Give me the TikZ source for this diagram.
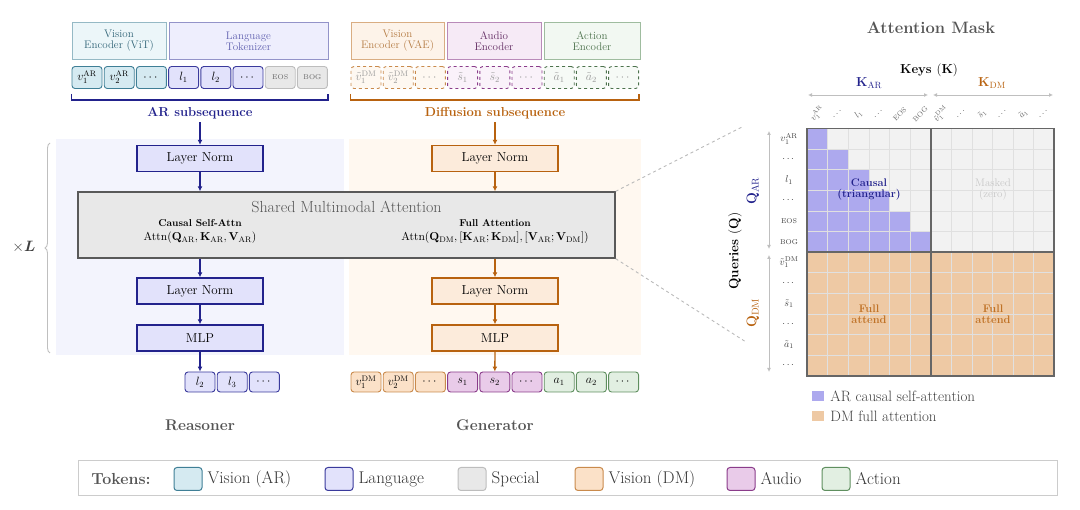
\documentclass[tikz,border=0pt]{standalone}
\usepackage{fix-cm}
\usepackage{amsmath}
\usepackage{amssymb}
\usepackage{tikz}
\usetikzlibrary{arrows.meta,calc,decorations.pathreplacing,positioning}
\usepackage{xcolor}

\definecolor{arnavy}{HTML}{22228C}
\definecolor{dmbrown}{HTML}{B8620F}
\definecolor{visarfill}{HTML}{D5EAF1}
\definecolor{visarline}{HTML}{3F7F96}
\definecolor{langfill}{HTML}{E2E2FB}
\definecolor{langline}{HTML}{3A3A9C}
\definecolor{specfill}{HTML}{E8E8E8}
\definecolor{specline}{HTML}{BDBDBD}
\definecolor{visdmfill}{HTML}{FBE1C8}
\definecolor{visdmline}{HTML}{C98A4C}
\definecolor{audfill}{HTML}{E9CBE9}
\definecolor{audline}{HTML}{8A3C8A}
\definecolor{actfill}{HTML}{E2EFE2}
\definecolor{actline}{HTML}{5F8F5F}
\definecolor{panelar}{HTML}{F3F4FD}
\definecolor{paneldm}{HTML}{FFF8F0}
\definecolor{mpurple}{HTML}{ADA9EE}
\definecolor{mtan}{HTML}{EEC9A4}
\definecolor{mgray}{HTML}{F2F2F2}
\definecolor{txtgray}{HTML}{555555}

\newcommand{\fsz}[1]{\fontsize{#1}{#1}\selectfont}
\newcommand{\cellw}{20.6}

\begin{document}
\begin{tikzpicture}[x=1pt,y=-1pt,
	enc/.style={draw,line width=0.9pt,minimum height=37,inner sep=0pt,align=center,font=\fsz{11}},
	tok/.style={draw,rounded corners=3pt,line width=0.9pt,minimum width=30,minimum height=22,inner sep=0pt,font=\fsz{12}},
	tva/.style={tok,fill=visarfill,draw=visarline},
	tlang/.style={tok,fill=langfill,draw=langline},
	tspec/.style={tok,fill=specfill,draw=specline,text=black!60},
	tvd/.style={tok,fill=visdmfill,draw=visdmline},
	taud/.style={tok,fill=audfill,draw=audline},
	tact/.style={tok,fill=actfill,draw=actline},
	dvd/.style={tok,dashed,fill=visdmfill!25,draw=visdmline,text=black!40},
	daud/.style={tok,dashed,fill=audfill!25,draw=audline,text=black!40},
	dact/.style={tok,dashed,fill=actfill!30,draw=actline!80!black,text=black!40},
	blockar/.style={draw=arnavy,fill=langfill,line width=1.4pt,minimum width=126,minimum height=26,font=\fsz{13}},
	blockdm/.style={draw=dmbrown,fill=visdmfill!65,line width=1.4pt,minimum width=126,minimum height=26,font=\fsz{13}},
	flowar/.style={arnavy,line width=1.3pt,-{Latex[length=5pt,width=5pt]}},
	flowdm/.style={dmbrown,line width=1.3pt,-{Latex[length=5pt,width=5pt]}},
	rowlab/.style={font=\fsz{10},text=black!75,inner sep=0pt},
	collab/.style={font=\fsz{9},text=black!60,inner sep=0pt,rotate=45},
	axisarr/.style={black!25,line width=0.9pt,{Latex[length=4pt,width=4pt]}-{Latex[length=4pt,width=4pt]}},
	swatch/.style={draw,rounded corners=3pt,line width=1pt,minimum width=28,minimum height=23,inner sep=0pt},
	]
	\useasboundingbox (0,0) rectangle (1080,510);

	\fill[panelar] (56,139) rectangle (344,355);
	\fill[paneldm] (349,139) rectangle (641,355);
	\draw[black!25,line width=0.9pt,decorate,decoration={brace,amplitude=5pt}] (50,353) -- (50,143);
	\node[font=\fsz{15},text=black!75] (times) at (24,247) {$\times\boldsymbol{L}$};

	\node[enc,fill=visarfill!45,draw=visarline!55,text=visarline!80!black,minimum width=94] (vit) at (119,41) {Vision\\Encoder (ViT)};
	\node[enc,fill=langfill!60,draw=langline!55,text=langline!80,minimum width=159] (tokz) at (248.5,41) {Language\\Tokenizer};
	\node[enc,fill=visdmfill!40,draw=visdmline!70,text=visdmline!90!black,minimum width=93] (vae) at (397.5,41) {Vision\\Encoder (VAE)};
	\node[enc,fill=audfill!40,draw=audline!60,text=audline!70!black,minimum width=94] (aud) at (494,41) {Audio\\Encoder};
	\node[enc,fill=actfill!45,draw=actline!60,text=actline!80!black,minimum width=96] (act) at (592,41) {Action\\Encoder};

	\foreach \lab/\sty [count=\i] in {{$v_1^{\mathrm{AR}}$}/tva,{$v_2^{\mathrm{AR}}$}/tva,{$\cdots$}/tva,{$l_1$}/tlang,{$l_2$}/tlang,{$\cdots$}/tlang,{\fsz{7}EOS}/tspec,{\fsz{7}BOG}/tspec}
		\node[\sty] (ar\i) at ({87+32.2*(\i-1)},77.5) {\lab};
	\foreach \lab/\sty [count=\i] in {{$\tilde v_1^{\mathrm{DM}}$}/dvd,{$\tilde v_2^{\mathrm{DM}}$}/dvd,{$\cdots$}/dvd,{$\tilde s_1$}/daud,{$\tilde s_2$}/daud,{$\cdots$}/daud,{$\tilde a_1$}/dact,{$\tilde a_2$}/dact,{$\cdots$}/dact}
		\node[\sty] (dm\i) at ({366+32.2*(\i-1)},77.5) {\lab};

	\draw[arnavy,line width=1.3pt] ($(ar1.south west)+(0,5)$) -- ++(0,6) -| ($(ar8.south east)+(0,5)$);
	\draw[dmbrown,line width=1.3pt] ($(dm1.south west)+(0,5)$) -- ++(0,6) -| ($(dm9.south east)+(0,5)$);
	\node[font=\bfseries\fsz{13},text=arnavy] (arsub) at (200,113) {AR subsequence};
	\node[font=\bfseries\fsz{13},text=dmbrown] (dmsub) at (495,113) {Diffusion subsequence};

	\node[blockar] (lnA) at (200,158.5) {Layer Norm};
	\node[blockdm] (lnC) at (495,158.5) {Layer Norm};
	\node[draw=black!65,fill=black!9,line width=1.4pt,minimum width=537,minimum height=66] (attn) at (346.5,225) {};
	\node[font=\fsz{16},text=txtgray] (attnt) at (346.5,207) {Shared Multimodal Attention};
	\node[font=\bfseries\fsz{10}] (causal) at (200,223) {Causal Self-Attn};
	\node[font=\fsz{11.5}] (causalf) at (200,238) {$\mathrm{Attn}(\mathbf{Q}_{\mathrm{AR}},\mathbf{K}_{\mathrm{AR}},\mathbf{V}_{\mathrm{AR}})$};
	\node[font=\bfseries\fsz{10}] (full) at (495,223) {Full Attention};
	\node[font=\fsz{11.5}] (fullf) at (495,238) {$\mathrm{Attn}(\mathbf{Q}_{\mathrm{DM}},[\mathbf{K}_{\mathrm{AR}};\mathbf{K}_{\mathrm{DM}}],[\mathbf{V}_{\mathrm{AR}};\mathbf{V}_{\mathrm{DM}}])$};
	\node[blockar] (lnB) at (200,291) {Layer Norm};
	\node[blockdm] (lnD) at (495,291) {Layer Norm};
	\node[blockar] (mlpA) at (200,338) {MLP};
	\node[blockdm] (mlpB) at (495,338) {MLP};

	\foreach \lab [count=\i] in {{$l_2$},{$l_3$},{$\cdots$}}
		\node[tlang,minimum height=20] (outa\i) at ({200+32.2*(\i-1)},382) {\lab};
	\foreach \lab/\sty [count=\i] in {{$v_1^{\mathrm{DM}}$}/tvd,{$v_2^{\mathrm{DM}}$}/tvd,{$\cdots$}/tvd,{$s_1$}/taud,{$s_2$}/taud,{$\cdots$}/taud,{$a_1$}/tact,{$a_2$}/tact,{$\cdots$}/tact}
		\node[\sty,minimum height=20] (outd\i) at ({366+32.2*(\i-1)},382) {\lab};

	\draw[flowar] (arsub) -- (lnA);
	\draw[flowar] (lnA) -- (lnA |- attn.north);
	\draw[flowar] (lnA |- attn.south) -- (lnB);
	\draw[flowar] (lnB) -- (mlpA);
	\draw[flowar] (mlpA) -- (outa1);
	\draw[flowdm] (dmsub) -- (lnC);
	\draw[flowdm] (lnC) -- (lnC |- attn.north);
	\draw[flowdm] (lnC |- attn.south) -- (lnD);
	\draw[flowdm] (lnD) -- (mlpB);
	\draw[flowdm] (mlpB) -- (outd5);

	\node[font=\bfseries\fsz{15.5},text=txtgray] (reas) at (200,425) {Reasoner};
	\node[font=\bfseries\fsz{15.5},text=txtgray] (gen) at (495,425) {Generator};

	\coordinate (mtop) at (742,127);
	\coordinate (mbot) at (746,342);
	\draw[black!27,dashed,line width=0.9pt] (attn.north east) -- (mtop);
	\draw[black!27,dashed,line width=0.9pt] (attn.south east) -- (mbot);

	\node[font=\bfseries\fsz{16.5},text=txtgray] (masktitle) at (931,28) {Attention Mask};
	\node[font=\bfseries\fsz{13}] (keys) at (929,70) {Keys $(\mathbf{K})$};
	\node[font=\fsz{13},text=arnavy] (kar) at (869,83) {$\mathbf{K}_{\mathrm{AR}}$};
	\node[font=\fsz{13},text=dmbrown] (kdm) at (992,83) {$\mathbf{K}_{\mathrm{DM}}$};
	\draw[axisarr] (808,95) -- (928,95);
	\draw[axisarr] (933,95) -- (1053,95);

	\fill[mgray] (807,128.5) rectangle ({807+12*\cellw},{128.5+6*\cellw});
	\fill[mtan] (807,{128.5+6*\cellw}) rectangle ({807+12*\cellw},{128.5+12*\cellw});
	\foreach \r in {0,...,5}
		\fill[mpurple] (807,{128.5+\r*\cellw}) rectangle ({807+(\r+1)*\cellw},{128.5+(\r+1)*\cellw});
	\foreach \k in {1,...,11}{
		\draw[black!12,line width=0.6pt] ({807+\k*\cellw},128.5) -- ++(0,{12*\cellw});
		\draw[black!12,line width=0.6pt] (807,{128.5+\k*\cellw}) -- ++({12*\cellw},0);
	}
	\draw[black!60,line width=1.8pt] (807,{128.5+6*\cellw}) -- ++({12*\cellw},0);
	\draw[black!60,line width=1.8pt] ({807+6*\cellw},128.5) -- ++(0,{12*\cellw});
	\draw[black!60,line width=1.8pt] (807,128.5) rectangle ({807+12*\cellw},{128.5+12*\cellw});

	\node[font=\bfseries\fsz{11},text=arnavy,align=center] (causaltxt) at (869,190) {Causal\\(triangular)};
	\node[font=\fsz{11},text=black!22,align=center] (masked) at (993,190) {Masked\\(zero)};
	\node[font=\bfseries\fsz{11},text=dmbrown!90,align=center] (fullA) at (869,314) {Full\\attend};
	\node[font=\bfseries\fsz{11},text=dmbrown!90,align=center] (fullB) at (993,314) {Full\\attend};

	\foreach \lab [count=\i from 0] in {{$v_1^{\mathrm{AR}}$},{$\cdots$},{$l_1$},{$\cdots$},{\fsz{7}EOS},{\fsz{7}BOG},{$\tilde v_1^{\mathrm{DM}}$},{$\cdots$},{$\tilde s_1$},{$\cdots$},{$\tilde a_1$},{$\cdots$}}{
		\node[rowlab] (row\i) at (789,{138.8+\i*\cellw}) {\lab};
		\node[collab] (col\i) at ({817.3+\i*\cellw},114) {\lab};
	}
	\draw[axisarr] (769,131) -- (769,249);
	\draw[axisarr] (769,255) -- (769,372);
	\node[font=\fsz{14},text=arnavy,rotate=90] (qar) at (753,191) {$\mathbf{Q}_{\mathrm{AR}}$};
	\node[font=\fsz{14},text=dmbrown,rotate=90] (qdm) at (753,313) {$\mathbf{Q}_{\mathrm{DM}}$};
	\node[font=\bfseries\fsz{13.5},rotate=90] (queries) at (735,251) {Queries $(\mathbf{Q})$};

	\node[fill=mpurple,minimum width=12,minimum height=10,inner sep=0pt] (lgp) at (818,396) {};
	\node[right=6pt of lgp,font=\fsz{15},text=black!75,inner sep=0pt] (lgptxt) {AR causal self-attention};
	\node[fill=mtan,minimum width=12,minimum height=10,inner sep=0pt] (lgt) at (818,416) {};
	\node[right=6pt of lgt,font=\fsz{15},text=black!75,inner sep=0pt] (lgttxt) {DM full attention};

	\draw[black!20,line width=1pt] (78,461) rectangle (1057,496);
	\node[font=\bfseries\fsz{16},text=txtgray] (toklab) at (121,479) {Tokens:};
	\foreach \x/\sty/\txt [count=\i] in {188/tva/Vision (AR),339/tlang/Language,472/tspec/Special,589/tvd/Vision (DM),741/taud/Audio,836/tact/Action}{
		\node[\sty,swatch] (sw\i) at (\x,479) {};
		\node[right=5pt of sw\i,font=\fsz{17},text=black!80,inner sep=0pt] (swt\i) {\txt};
	}
\end{tikzpicture}
\end{document}
